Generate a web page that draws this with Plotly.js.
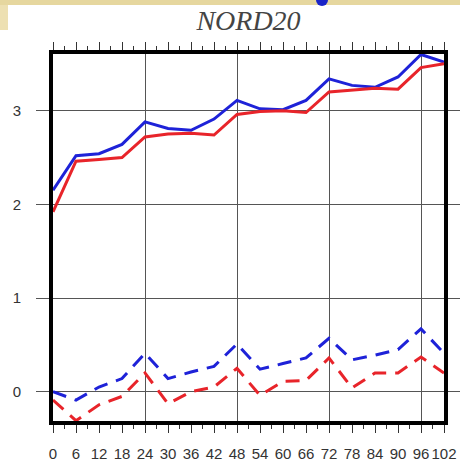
<!DOCTYPE html>
<html>
<head>
<meta charset="utf-8">
<script src="https://cdn.plot.ly/plotly-3.0.1.min.js"></script>
<style>
  html, body { margin: 0; padding: 0; background: #ffffff; }
  #chart { width: 460px; height: 464px; }
</style>
</head>
<body>
<div id="chart"></div>
<script>
// Forecast lead times (hours)
const leadTimes = [0, 6, 12, 18, 24, 30, 36, 42, 48, 54, 60, 66, 72, 78, 84, 90, 96, 102];
// Lead times that get a full-height vertical grid line
const gridHours = [24, 48, 72, 96];

// Upper pair (solid lines)
const blueSolid = [2.15, 2.52, 2.54, 2.64, 2.88, 2.81, 2.79, 2.91, 3.11, 3.02, 3.01, 3.11, 3.34, 3.27, 3.25, 3.36, 3.60, 3.52];
const redSolid  = [1.92, 2.46, 2.48, 2.50, 2.72, 2.75, 2.76, 2.74, 2.96, 2.99, 3.00, 2.98, 3.20, 3.22, 3.24, 3.23, 3.46, 3.50];

// Lower pair (dashed lines)
const blueDashed = [0.00, -0.09, 0.05, 0.14, 0.41, 0.14, 0.21, 0.27, 0.51, 0.24, 0.30, 0.36, 0.57, 0.34, 0.39, 0.45, 0.67, 0.41];
const redDashed  = [-0.09, -0.31, -0.14, -0.05, 0.20, -0.13, 0.00, 0.05, 0.25, -0.04, 0.11, 0.12, 0.36, 0.04, 0.20, 0.20, 0.37, 0.20];

const xTickVals = leadTimes;
const xTickText = leadTimes.map(String);
const yTickVals = [0, 1, 2, 3];

const BLUE = '#1e22d8';
const RED = '#e8242a';

function line(y, color, dash) {
  return {
    x: leadTimes, y: y, type: 'scatter', mode: 'lines',
    line: { color: color, width: 3, dash: dash },
    hoverinfo: 'skip', showlegend: false
  };
}

const traces = [
  // empty trace that hooks the grid-only x axis onto the plot
  { x: [gridHours[0]], y: [null], xaxis: 'x2', yaxis: 'y', type: 'scatter', mode: 'lines',
    hoverinfo: 'skip', showlegend: false },
  line(blueSolid, BLUE, 'solid'),
  line(redSolid, RED, 'solid'),
  line(blueDashed, BLUE, '14px,9px'),
  line(redDashed, RED, '14px,9px')
];

const tickFont = { family: 'Liberation Sans, Arial, sans-serif', size: 15, color: '#333333' };

const layout = {
  width: 460, height: 464,
  margin: { l: 53, r: 16, t: 54, b: 43, pad: 0 },
  paper_bgcolor: '#ffffff', plot_bgcolor: '#ffffff',
  title: {
    text: 'NORD20',
    font: { family: 'Liberation Serif, Times New Roman, serif', size: 28, color: '#444444', style: 'italic' },
    x: 0.5, xref: 'paper', xanchor: 'center',
    y: 0.957, yref: 'container', yanchor: 'middle'
  },
  xaxis: {
    range: [0, 102],
    tickvals: xTickVals, ticktext: xTickText, tickangle: 0,
    tickfont: tickFont,
    ticks: 'outside', ticklen: 8, tickwidth: 1, tickcolor: '#333333',
    ticklabelstandoff: 8,
    minor: { dtick: 3, tick0: 0, ticks: 'outside', ticklen: 4, tickwidth: 1, tickcolor: '#333333', showgrid: false },
    showline: true, linewidth: 4, linecolor: '#000000', mirror: 'ticks',
    showgrid: false,
    zeroline: false, fixedrange: true
  },
  xaxis2: {
    overlaying: 'x', anchor: 'y', side: 'bottom',
    range: [0, 102],
    tickvals: gridHours, showticklabels: false, ticks: '',
    showline: false, showgrid: true, gridcolor: '#555555', gridwidth: 1,
    zeroline: false, fixedrange: true
  },
  yaxis: {
    range: [-0.313, 3.605],
    tickvals: yTickVals, ticktext: yTickVals.map(String),
    tickfont: tickFont,
    ticks: 'outside', ticklen: 13, tickwidth: 1, tickcolor: '#555555',
    ticklabelstandoff: 12,
    showline: true, linewidth: 4, linecolor: '#000000', mirror: 'ticks',
    showgrid: true, gridcolor: '#555555', gridwidth: 1,
    zeroline: false, fixedrange: true
  },
  shapes: [
    // slide backdrop around the figure
    { type: 'rect', xref: 'paper', yref: 'paper', layer: 'below',
      x0: -53/391, x1: 1 + 16/391, y0: 1 + 49/367, y1: 1 + 54/367,
      fillcolor: '#e6d79f', line: { width: 0 } },
    { type: 'rect', xref: 'paper', yref: 'paper', layer: 'below',
      x0: -53/391, x1: -45/391, y0: 1 + 24/367, y1: 1 + 49/367,
      fillcolor: '#ede0b2', line: { width: 0 } },
    { type: 'circle', xref: 'paper', yref: 'paper', layer: 'above',
      x0: (316-53)/391, x1: (328-53)/391, y0: 1 + 48/367, y1: 1 + 60/367,
      fillcolor: '#1a24c8', line: { width: 0 } }
  ]
};

Plotly.newPlot('chart', traces, layout, { displayModeBar: false, staticPlot: true });
</script>
</body>
</html>
